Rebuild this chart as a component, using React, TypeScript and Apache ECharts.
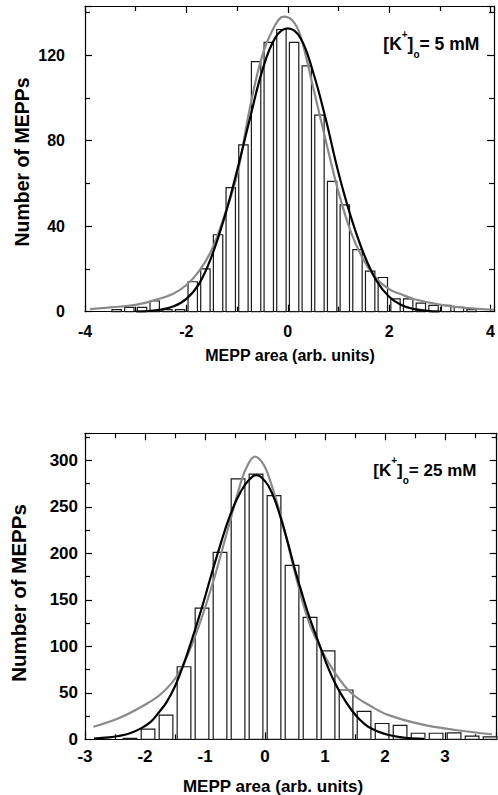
import React, { useEffect, useRef } from "react";
import * as echarts from "echarts";

// ---------- Top panel ([K+]o = 5 mM) ----------
const topBinCenters = [
  -3.375, -3.125, -2.875, -2.625, -2.375, -2.125, -1.875, -1.625, -1.375, -1.125,
  -0.875, -0.625, -0.375, -0.125, 0.125, 0.375, 0.625, 0.875, 1.125, 1.375,
  1.625, 1.875, 2.125, 2.375, 2.625, 2.875, 3.125, 3.375, 3.625,
];
const topCounts = [
  1, 2, 2, 5, 1, 1, 14, 20, 36, 58,
  78, 117, 126, 132, 126, 115, 92, 61, 50, 29,
  19, 16, 6, 6, 4, 3, 3, 2, 1,
];
const topGrayX = [
  -3.9, -3.5, -3.0, -2.5, -2.25, -2.0, -1.75, -1.5, -1.25, -1.0, -0.75, -0.5, -0.25, -0.08,
  0.1, 0.25, 0.5, 0.75, 1.0, 1.25, 1.5, 1.75, 2.0, 2.25, 2.5, 3.0, 3.5, 4.07,
];
const topGrayY = [
  1.2, 2.0, 3.2, 6.3, 8.5, 12.5, 19, 29, 45, 64, 95, 120, 134, 138,
  136, 129, 105, 80, 56, 37, 24, 15.5, 10.5, 8, 5.8, 3.3, 1.8, 0.9,
];
const topBlackX = [
  -3.0, -2.75, -2.5, -2.25, -2.0, -1.75, -1.5, -1.25, -1.0, -0.75, -0.5, -0.25, 0.0,
  0.25, 0.5, 0.75, 1.0, 1.25, 1.5, 1.75, 2.0, 2.25, 2.5, 2.75, 3.0,
];
const topBlackY = [
  0.1, 0.3, 1.0, 2.5, 6, 13, 26, 44, 66, 90, 113, 128, 132.5,
  128, 112, 90, 65, 44, 27, 14.5, 7, 3, 1.2, 0.4, 0.1,
];
const topXTicks = { min: -4, max: 4.07, interval: 2 };
const topYTicks = { min: 0, max: 143, interval: 40 };

// ---------- Bottom panel ([K+]o = 25 mM) ----------
const botBinCenters = [
  -2.25, -1.95, -1.65, -1.35, -1.05, -0.75, -0.45, -0.15, 0.15, 0.45, 0.75,
  1.05, 1.35, 1.65, 1.95, 2.25, 2.55, 2.85, 3.15, 3.45, 3.75,
];
const botCounts = [
  1, 11, 26, 78, 141, 201, 280, 285, 262, 187, 131,
  95, 53, 30, 17, 15, 6.5, 6.5, 7, 3.5, 2.5,
];
const botGrayX = [
  -2.86, -2.44, -2.06, -1.72, -1.44, -1.17, -0.89, -0.61, -0.39, -0.28, -0.17,
  -0.05, 0.06, 0.28, 0.5, 0.72, 0.94, 1.17, 1.44, 1.78, 2.06, 2.61, 3.17, 3.78,
];
const botGrayY = [
  13.5, 22.6, 35, 49.5, 71, 110, 164, 228, 279, 296, 304,
  298, 283, 236, 178.5, 128, 96, 71, 49.5, 35, 26, 16, 10, 5.4,
];
const botBlackX = [
  -2.85, -2.6, -2.44, -2.25, -2.06, -1.9, -1.78, -1.64, -1.5, -1.36, -1.22, -1.05,
  -0.89, -0.75, -0.61, -0.47, -0.33, -0.2, -0.14, -0.05, 0.06, 0.17, 0.28, 0.39,
  0.5, 0.61, 0.72, 0.83, 0.94, 1.05, 1.17, 1.3, 1.44, 1.58, 1.72, 1.9, 2.06,
  2.25, 2.44, 2.65,
];
const botBlackY = [
  0.8, 2, 3.5, 6.5, 12, 19, 28, 40, 57, 80, 107, 142,
  178, 208, 236, 258, 274, 283, 284, 281, 272, 256, 234, 209,
  182, 158, 135, 115, 96, 77, 60, 45, 31.5, 21, 13.5, 8, 4.6,
  2.3, 1, 0.4,
];
const botXTicks = { min: -3, max: 3.86, interval: 1 };
const botYTicks = { min: 0, max: 329, interval: 50 };

const xTitle = "MEPP area (arb. units)";
const yTitle = "Number of MEPPs";

const FONT = "'Liberation Sans', Arial, Helvetica, sans-serif";
const TOP_BAR_W = 0.185;
const BOT_BAR_W = 0.228;

function zip(xs: number[], ys: number[]) {
  return xs.map((x, i) => [x, ys[i]]);
}

function barRenderer(w: number) {
  return (params: any, api: any) => {
    const x = api.value(0);
    const y = api.value(1);
    const p0 = api.coord([x - w / 2, y]);
    const p1 = api.coord([x + w / 2, 0]);
    return {
      type: "rect",
      shape: { x: p0[0], y: p0[1], width: p1[0] - p0[0], height: p1[1] - p0[1] },
      style: { fill: "#ffffff", stroke: "#1a1a1a", lineWidth: 1.2 },
    };
  };
}

function xAxisCfg(grid: number, t: any, fontSize: number, margin: number, top: boolean) {
  return {
    type: "value",
    gridIndex: grid,
    position: top ? "top" : "bottom",
    min: t.min,
    max: t.max,
    interval: t.interval,
    axisLine: { show: true, onZero: false, lineStyle: { color: "#000", width: 1.2 } },
    axisTick: { show: true, inside: true, length: 7, lineStyle: { color: "#000", width: 1.2 } },
    minorTick: { show: true, splitNumber: 2, length: 5, lineStyle: { color: "#000", width: 1.2 } },
    axisLabel: {
      show: !top,
      margin,
      color: "#000",
      fontSize,
      fontWeight: "bold",
      fontFamily: FONT,
      showMaxLabel: false,
      showMinLabel: true,
    },
    splitLine: { show: false },
  };
}

function yAxisCfg(grid: number, t: any, fontSize: number, margin: number, right: boolean) {
  return {
    type: "value",
    gridIndex: grid,
    position: right ? "right" : "left",
    min: t.min,
    max: t.max,
    interval: t.interval,
    axisLine: { show: true, onZero: false, lineStyle: { color: "#000", width: 1.2 } },
    axisTick: { show: true, inside: true, length: 7, lineStyle: { color: "#000", width: 1.2 } },
    minorTick: { show: true, splitNumber: 2, length: 5, lineStyle: { color: "#000", width: 1.2 } },
    axisLabel: {
      show: !right,
      margin,
      color: "#000",
      fontSize,
      fontWeight: "bold",
      fontFamily: FONT,
      showMaxLabel: false,
    },
    splitLine: { show: false },
  };
}

function legendText(conc: string, x: number, y: number, fs: number) {
  return {
    type: "text",
    x,
    y,
    style: {
      text: `{a|[K}{sup|+}{a|]}{sub|o}{a|= ${conc} mM}`,
      textAlign: "left",
      textVerticalAlign: "middle",
      fill: "#000",
      rich: {
        a: { fontSize: fs, fontWeight: "bold", fontFamily: FONT, lineHeight: 30, fill: "#000" },
        sup: { fontSize: 10, fontWeight: "bold", fontFamily: FONT, lineHeight: 22, verticalAlign: "top", fill: "#000" },
        sub: { fontSize: 10, fontWeight: "bold", fontFamily: FONT, lineHeight: 9, verticalAlign: "bottom", fill: "#000" },
      },
    },
  };
}

export default function App() {
  const ref = useRef<HTMLDivElement>(null);

  useEffect(() => {
    document.body.style.margin = "0";
    if (!ref.current) return;
    const chart = echarts.init(ref.current, undefined, { renderer: "svg" });
    const option: any = {
      animation: false,
      backgroundColor: "#ffffff",
      grid: [
        { left: 85, top: 6, width: 411.7, height: 305.7 },
        { left: 85, top: 433.3, width: 411.7, height: 306 },
      ],
      xAxis: [
        xAxisCfg(0, topXTicks, 16, 12, false),
        xAxisCfg(1, botXTicks, 17, 9, false),
        xAxisCfg(0, topXTicks, 16, 12, true),
        xAxisCfg(1, botXTicks, 17, 9, true),
      ],
      yAxis: [
        yAxisCfg(0, topYTicks, 16, 20, false),
        yAxisCfg(1, botYTicks, 17, 7, false),
        yAxisCfg(0, topYTicks, 16, 20, true),
        yAxisCfg(1, botYTicks, 17, 7, true),
      ],
      series: [
        {
          type: "custom",
          xAxisIndex: 0,
          yAxisIndex: 0,
          renderItem: barRenderer(TOP_BAR_W),
          data: zip(topBinCenters, topCounts),
          z: 2,
        },
        {
          type: "line",
          xAxisIndex: 0,
          yAxisIndex: 0,
          data: zip(topGrayX, topGrayY),
          smooth: 0.4,
          showSymbol: false,
          lineStyle: { color: "#8a8a8a", width: 2.2 },
          z: 3,
        },
        {
          type: "line",
          xAxisIndex: 0,
          yAxisIndex: 0,
          data: zip(topBlackX, topBlackY),
          smooth: 0.4,
          showSymbol: false,
          lineStyle: { color: "#000", width: 2.2 },
          z: 4,
        },
        {
          type: "custom",
          xAxisIndex: 1,
          yAxisIndex: 1,
          renderItem: barRenderer(BOT_BAR_W),
          data: zip(botBinCenters, botCounts),
          z: 2,
        },
        {
          type: "line",
          xAxisIndex: 1,
          yAxisIndex: 1,
          data: zip(botGrayX, botGrayY),
          smooth: 0.4,
          showSymbol: false,
          lineStyle: { color: "#8a8a8a", width: 2.2 },
          z: 3,
        },
        {
          type: "line",
          xAxisIndex: 1,
          yAxisIndex: 1,
          data: zip(botBlackX, botBlackY),
          smooth: 0.4,
          showSymbol: false,
          lineStyle: { color: "#000", width: 2.2 },
          z: 4,
        },
      ],
      graphic: [
        {
          type: "text",
          x: 290,
          y: 355,
          style: { text: xTitle, textAlign: "center", textVerticalAlign: "middle", fontSize: 16, fontWeight: "bold", fontFamily: FONT, fill: "#000" },
        },
        {
          type: "text",
          x: 273,
          y: 786,
          style: { text: xTitle, textAlign: "center", textVerticalAlign: "middle", fontSize: 17, fontWeight: "bold", fontFamily: FONT, fill: "#000" },
        },
        {
          type: "text",
          x: 22,
          y: 162,
          rotation: Math.PI / 2,
          style: { text: yTitle, textAlign: "center", textVerticalAlign: "middle", fontSize: 19.5, fontWeight: "bold", fontFamily: FONT, fill: "#000" },
        },
        {
          type: "text",
          x: 18,
          y: 593,
          rotation: Math.PI / 2,
          style: { text: yTitle, textAlign: "center", textVerticalAlign: "middle", fontSize: 20.5, fontWeight: "bold", fontFamily: FONT, fill: "#000" },
        },
        legendText("5", 383.3, 44.3, 17.5),
        legendText("25", 373.3, 470.8, 17),
      ],
    };
    chart.setOption(option);
    return () => chart.dispose();
  }, []);

  return (
    <div
      ref={ref}
      style={{ position: "absolute", left: 0, top: 0, width: 498, height: 795 }}
    />
  );
}
